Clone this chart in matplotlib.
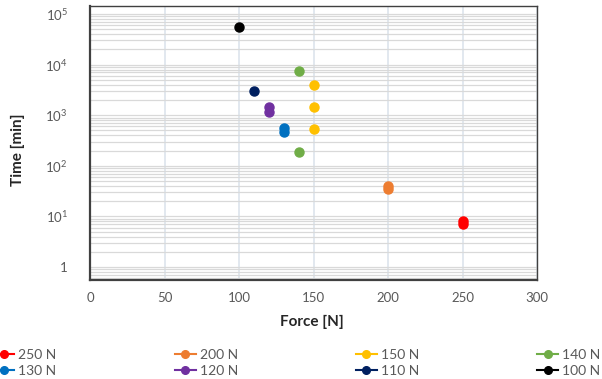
import matplotlib
matplotlib.use("Agg")
import matplotlib.pyplot as plt
from matplotlib.ticker import FixedLocator, FixedFormatter, NullFormatter, LogLocator

plt.rcParams['font.family'] = ['Lato', 'DejaVu Sans']

# Data (Force [N], Time [min])
series_names = ["250 N", "200 N", "150 N", "140 N", "130 N", "120 N", "110 N", "100 N"]
series_colors = ["#FF0000", "#ED7D31", "#FFC000", "#70AD47", "#0070C0", "#7030A0", "#002060", "#000000"]
force_250 = [250, 250]; time_250 = [8.0, 7.1]
force_200 = [200, 200]; time_200 = [39, 35]
force_150 = [150, 150, 150]; time_150 = [3900, 1450, 530]
force_140 = [140, 140]; time_140 = [7400, 190]
force_130 = [130, 130]; time_130 = [550, 460]
force_120 = [120, 120]; time_120 = [1450, 1150]
force_110 = [110]; time_110 = [3000]
force_100 = [100]; time_100 = [55000]

forces = [force_250, force_200, force_150, force_140, force_130, force_120, force_110, force_100]
times = [time_250, time_200, time_150, time_140, time_130, time_120, time_110, time_100]

x_ticks = [0, 50, 100, 150, 200, 250, 300]
y_ticks = [1, 10, 100, 1000, 10000, 100000]
y_ticklabels = ["1", r"$\mathdefault{10^{1}}$", r"$\mathdefault{10^{2}}$",
                r"$\mathdefault{10^{3}}$", r"$\mathdefault{10^{4}}$", r"$\mathdefault{10^{5}}$"]

fig = plt.figure(figsize=(6.02, 3.79), dpi=100)
ax = fig.add_axes([90/602, 1-280/379, (537-90)/602, (280-6)/379])

handles = {}
for name, col, fx, ty in zip(series_names, series_colors, forces, times):
    h, = ax.plot(fx, ty, linestyle='none', marker='o', markersize=6.5,
                 color=col, markeredgecolor=col, zorder=3, label=name)
    handles[name] = (h, col)

ax.set_yscale('log')
ax.set_xlim(0, 300)
ax.set_ylim(0.553, 1.44e5)
ax.xaxis.set_major_locator(FixedLocator(x_ticks))
ax.yaxis.set_major_locator(FixedLocator(y_ticks))
ax.yaxis.set_major_formatter(FixedFormatter(y_ticklabels))
ax.yaxis.set_minor_locator(LogLocator(base=10, subs=range(2, 10), numticks=20))
ax.yaxis.set_minor_formatter(NullFormatter())

ax.grid(True, axis='y', which='both', color='#d9d9d9', linewidth=0.9, zorder=0)
ax.grid(True, axis='x', which='major', color='#dde4ec', linewidth=1.2, zorder=0)
ax.set_axisbelow(True)

ax.tick_params(axis='both', which='both', length=0, labelsize=9.5, labelcolor='#595959')
ax.tick_params(axis='y', pad=16)
ax.tick_params(axis='x', pad=9)

for s in ['left', 'bottom']:
    ax.spines[s].set_color('#404040')
    ax.spines[s].set_linewidth(1.6)
for s in ['top', 'right']:
    ax.spines[s].set_color('#404040')
    ax.spines[s].set_linewidth(1.0)

fig.text(18/602, 1-150/379, "Time [min]", rotation=90, ha='center', va='center',
         fontsize=11, fontweight='bold', color='#262626')
fig.text(312/602, 1-322/379, "Force [N]", ha='center', va='center',
         fontsize=11, fontweight='bold', color='#262626')

# legend: columns filled in column order
order = ["250 N", "130 N", "200 N", "120 N", "150 N", "110 N", "140 N", "100 N"]
leg_handles = []
for n in order:
    col = handles[n][1]
    lh = matplotlib.lines.Line2D([], [], color=col, alpha=1, linewidth=1.5,
                                 marker='o', markersize=5.5, markerfacecolor=col,
                                 markeredgecolor=col)
    leg_handles.append(lh)
leg = fig.legend(leg_handles, order, ncol=4, frameon=False, fontsize=10,
                 loc='lower left', bbox_to_anchor=(-6.5/602, 2/379, 607/602, 40/379),
                 mode='expand', borderpad=0, borderaxespad=0, handlelength=1.5,
                 handletextpad=0.3, labelspacing=0.3, labelcolor='#595959')

fig.savefig("out.png", dpi=100)
